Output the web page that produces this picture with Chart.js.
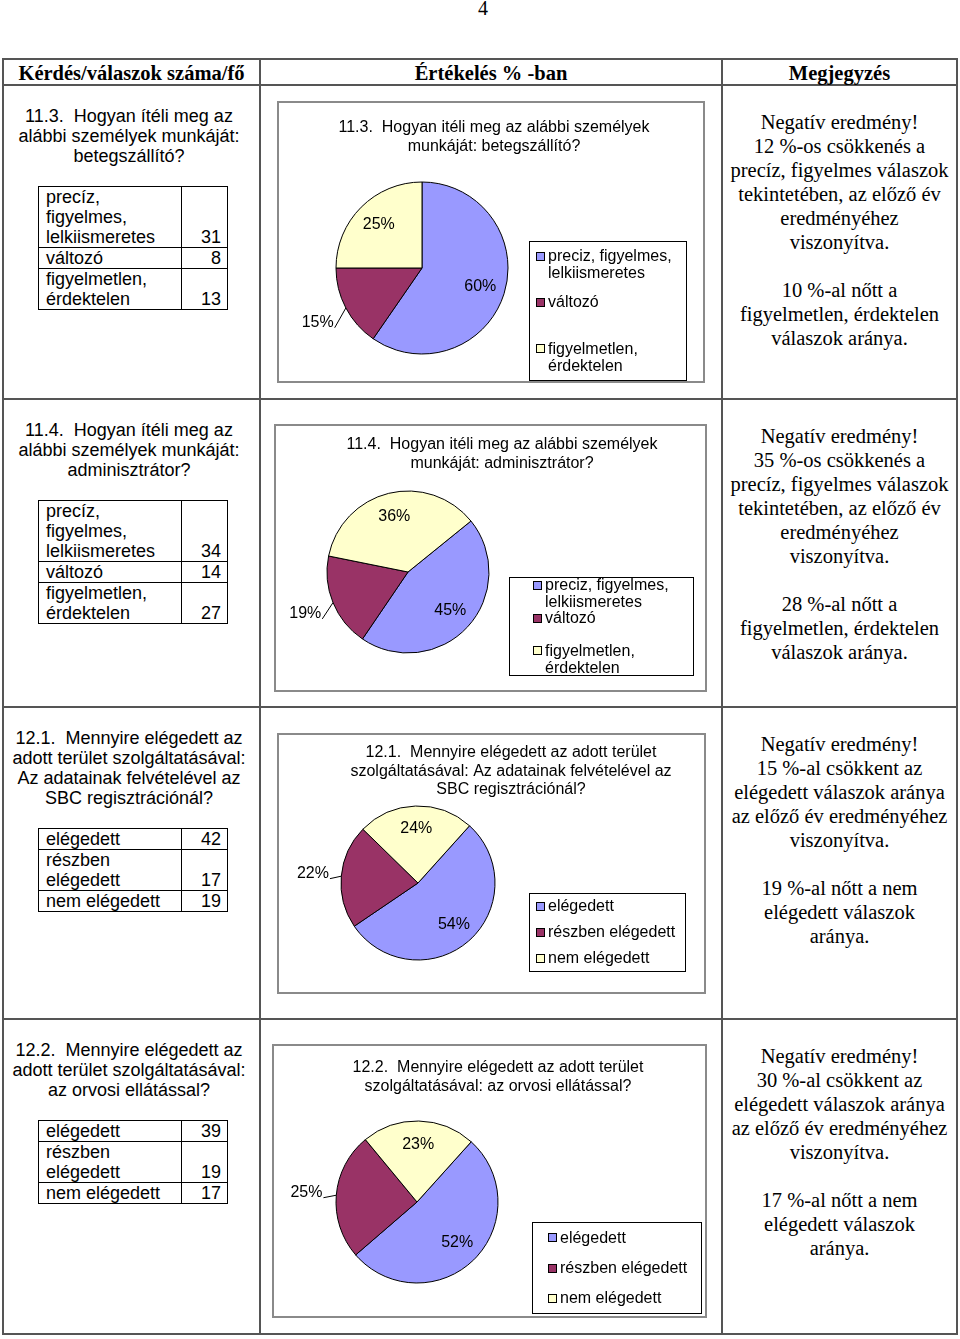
<!DOCTYPE html>
<html lang="hu">
<head>
<meta charset="utf-8">
<title>Értékelés % -ban</title>
<script src="https://cdn.jsdelivr.net/npm/chart.js@4.4.1/dist/chart.umd.min.js"></script>
<style>
  html, body { margin: 0; padding: 0; background: #fff; }
  #page { position: relative; width: 960px; height: 1339px; overflow: hidden; color: #000; }
  .line { position: absolute; background: #555; }
  .head { position: absolute; top: 62px; height: 22px; line-height: 22px; text-align: center;
          font: bold 20.5px "Liberation Serif", "Times New Roman", serif; }
  .question { position: absolute; left: 3px; width: 252px; text-align: center; padding-top: 21px;
              font: 18px/20px "Liberation Sans", Arial, sans-serif; }
  .question .q { white-space: pre; }
  .question table { margin: 20px 0 0 35px; border-collapse: collapse; table-layout: fixed; width: 189px; text-align: left; }
  .question td { border: 1px solid #000; padding: 0 6px 0 7px; vertical-align: bottom; }
  .question td.n { text-align: right; }
  .note { position: absolute; left: 722px; width: 235px; text-align: center; padding-top: 25px; white-space: pre;
          font: 20.5px/24px "Liberation Serif", "Times New Roman", serif; }
  .chartbox { position: absolute; box-sizing: border-box; border: 2px solid #8a8a8a; background: #fff; }
  .chartbox canvas { display: block; }
  #pagenum { position: absolute; left: 0; width: 966px; top: -4px; text-align: center;
             font: 20px/24px "Liberation Serif", "Times New Roman", serif; }
</style>
</head>
<body>
<div id="page">
  <div id="pagenum">4</div>
</div>
<script>
// --- data ---
const headers = ['Kérdés/válaszok száma/fő', 'Értékelés % -ban', 'Megjegyzés'];

const questionLines = [
  ['11.3.  Hogyan ítéli meg az', 'alábbi személyek munkáját:', 'betegszállító?'],
  ['11.4.  Hogyan ítéli meg az', 'alábbi személyek munkáját:', 'adminisztrátor?'],
  ['12.1.  Mennyire elégedett az', 'adott terület szolgáltatásával:', 'Az adatainak felvételével az', 'SBC regisztrációnál?'],
  ['12.2.  Mennyire elégedett az', 'adott terület szolgáltatásával:', 'az orvosi ellátással?']
];

const tableLabelsWork = ['precíz, figyelmes, lelkiismeretes', 'változó', 'figyelmetlen, érdektelen'];
const tableLabelsSatisfied = ['elégedett', 'részben elégedett', 'nem elégedett'];

const legendWork = [['preciz, figyelmes,', 'lelkiismeretes'], ['változó'], ['figyelmetlen,', 'érdektelen']];
const legendSatisfied = [['elégedett'], ['részben elégedett'], ['nem elégedett']];

const counts113 = [31, 8, 13];
const counts114 = [34, 14, 27];
const counts121 = [42, 17, 19];
const counts122 = [39, 19, 17];

const chartTitles = [
  ['11.3.  Hogyan itéli meg az alábbi személyek', 'munkáját: betegszállító?'],
  ['11.4.  Hogyan itéli meg az alábbi személyek', 'munkáját: adminisztrátor?'],
  ['12.1.  Mennyire elégedett az adott terület', 'szolgáltatásával: Az adatainak felvételével az', 'SBC regisztrációnál?'],
  ['12.2.  Mennyire elégedett az adott terület', 'szolgáltatásával: az orvosi ellátással?']
];

const notes = [
  ['Negatív eredmény!', '12 %-os csökkenés a', 'precíz, figyelmes válaszok', 'tekintetében, az előző év', 'eredményéhez', 'viszonyítva.', '', '10 %-al nőtt a', 'figyelmetlen, érdektelen', 'válaszok aránya.'],
  ['Negatív eredmény!', '35 %-os csökkenés a', 'precíz, figyelmes válaszok', 'tekintetében, az előző év', 'eredményéhez', 'viszonyítva.', '', '28 %-al nőtt a', 'figyelmetlen, érdektelen', 'válaszok aránya.'],
  ['Negatív eredmény!', '15 %-al csökkent az', 'elégedett válaszok aránya', 'az előző év eredményéhez', 'viszonyítva.', '', '19 %-al nőtt a nem', 'elégedett válaszok', 'aránya.'],
  ['Negatív eredmény!', '30 %-al csökkent az', 'elégedett válaszok aránya', 'az előző év eredményéhez', 'viszonyítva.', '', '17 %-al nőtt a nem', 'elégedett válaszok', 'aránya.']
];

const sliceColors = ['#9999FF', '#993366', '#FFFFCC'];

// --- page layout ---
const page = document.getElementById('page');
const rowTops = [85, 399, 707, 1019];

function line(x, y, w, h) {
  const d = document.createElement('div');
  d.className = 'line';
  Object.assign(d.style, { left: x + 'px', top: y + 'px', width: w + 'px', height: h + 'px' });
  page.appendChild(d);
}
line(2, 58, 956, 2);
line(2, 1333, 956, 2);
line(2, 58, 2, 1277);
line(956, 58, 2, 1277);
line(259, 58, 2, 1277);
line(721, 58, 2, 1277);
rowTops.forEach(y => line(2, y - 1, 956, 2));

const headCols = [[3, 257], [260, 462], [722, 235]];
headers.forEach((h, i) => {
  const d = document.createElement('div');
  d.className = 'head';
  d.style.left = headCols[i][0] + 'px';
  d.style.width = headCols[i][1] + 'px';
  d.textContent = h;
  page.appendChild(d);
});

const rowCounts = [counts113, counts114, counts121, counts122];
const rowTableLabels = [tableLabelsWork, tableLabelsWork, tableLabelsSatisfied, tableLabelsSatisfied];

questionLines.forEach((lines, r) => {
  const d = document.createElement('div');
  d.className = 'question';
  d.style.top = rowTops[r] + 'px';
  const q = document.createElement('div');
  q.className = 'q';
  q.textContent = lines.join('\n');
  d.appendChild(q);
  const t = document.createElement('table');
  t.innerHTML = '<colgroup><col style="width:143px"><col style="width:46px"></colgroup>';
  rowTableLabels[r].forEach((lab, i) => {
    const tr = document.createElement('tr');
    const a = document.createElement('td');
    a.textContent = lab;
    const b = document.createElement('td');
    b.className = 'n';
    b.textContent = rowCounts[r][i];
    tr.appendChild(a);
    tr.appendChild(b);
    t.appendChild(tr);
  });
  d.appendChild(t);
  page.appendChild(d);
});

notes.forEach((lines, r) => {
  const d = document.createElement('div');
  d.className = 'note';
  d.style.top = rowTops[r] + 'px';
  d.textContent = lines.join('\n');
  page.appendChild(d);
});

// --- charts ---
const layouts = [
  { box: [277, 101, 428, 282], cx: 422, cy: 268, r: 86, rotation: 0,  titleX: 494, titleY: 128, legend: [529, 241, 157, 139], inset: 7 },
  { box: [274, 424, 433, 268], cx: 408, cy: 572, r: 81, rotation: 51, titleX: 502, titleY: 445, legend: [509, 577, 184, 98],  inset: 24 },
  { box: [277, 733, 429, 261], cx: 418, cy: 883, r: 77, rotation: 42, titleX: 511, titleY: 753, legend: [529, 893, 156, 78],  inset: 7 },
  { box: [272, 1044, 435, 274], cx: 417, cy: 1202, r: 81, rotation: 42, titleX: 498, titleY: 1068, legend: [532, 1222, 169, 91], inset: 16 }
];
const chartLegends = [legendWork, legendWork, legendSatisfied, legendSatisfied];

const FONT = '16px "Liberation Sans", Arial, sans-serif';

const pieText = {
  id: 'pieText',
  afterDraw(chart, args, opts) {
    const c = chart.ctx;
    c.save();
    c.font = FONT;
    c.fillStyle = '#000';
    c.strokeStyle = '#000';
    c.lineWidth = 1;
    c.textAlign = 'center';
    c.textBaseline = 'middle';

    opts.title.forEach((t, i) => c.fillText(t, opts.titleX, opts.titleY + i * 18.4));

    const values = chart.data.datasets[0].data;
    const total = values.reduce((a, b) => a + b, 0);
    chart.getDatasetMeta(0).data.forEach((arc, i) => {
      const p = arc.getProps(['x', 'y', 'startAngle', 'endAngle', 'outerRadius'], true);
      const mid = (p.startAngle + p.endAngle) / 2;
      const txt = Math.round(values[i] / total * 100) + '%';
      if (i === opts.outside) {
        const d = p.outerRadius * 1.37;
        const lx = p.x + Math.cos(mid) * d, ly = p.y + Math.sin(mid) * d;
        c.fillText(txt, lx, ly);
        const w = c.measureText(txt).width;
        c.beginPath();
        c.moveTo(lx + w / 2 + 1, ly + 5);
        c.lineTo(p.x + Math.cos(mid) * p.outerRadius, p.y + Math.sin(mid) * p.outerRadius);
        c.stroke();
      } else {
        const d = p.outerRadius * 0.71;
        c.fillText(txt, p.x + Math.cos(mid) * d, p.y + Math.sin(mid) * d);
      }
    });

    // framed legend
    const [x, y, w, h] = opts.legend;
    c.fillStyle = '#fff';
    c.fillRect(x, y, w, h);
    c.strokeRect(x + 0.5, y + 0.5, w, h);
    const labels = opts.labels;
    const colors = chart.data.datasets[0].backgroundColor;
    const maxLines = Math.max(...labels.map(l => l.length));
    const lh = 17;
    const slot = h / labels.length;
    c.textAlign = 'left';
    labels.forEach((lines, i) => {
      const top = y + i * slot + (slot - maxLines * lh) / 2;
      const my = Math.round(top + lh / 2);
      c.fillStyle = colors[i];
      c.fillRect(x + opts.inset, my - 4, 9, 9);
      c.strokeRect(x + opts.inset + 0.5, my - 3.5, 8, 8);
      c.fillStyle = '#000';
      lines.forEach((t, j) => c.fillText(t, x + opts.inset + 12, top + lh / 2 + j * lh + 1));
    });
    c.restore();
  }
};

layouts.forEach((L, k) => {
  const [bx, by, bw, bh] = L.box;
  const ox = bx + 2, oy = by + 2;
  const W = bw - 4, H = bh - 4;
  const wrap = document.createElement('div');
  wrap.className = 'chartbox';
  Object.assign(wrap.style, { left: bx + 'px', top: by + 'px', width: bw + 'px', height: bh + 'px' });
  const cv = document.createElement('canvas');
  cv.width = W;
  cv.height = H;
  wrap.appendChild(cv);
  page.appendChild(wrap);

  const cx = L.cx - ox, cy = L.cy - oy;
  new Chart(cv.getContext('2d'), {
    type: 'pie',
    data: {
      labels: chartLegends[k].map(l => l.join(' ')),
      datasets: [{
        data: rowCounts[k],
        backgroundColor: sliceColors,
        borderColor: '#000',
        borderWidth: 1
      }]
    },
    options: {
      responsive: false,
      animation: false,
      rotation: L.rotation,
      radius: L.r,
      layout: {
        padding: { left: cx - L.r - 1, right: W - cx - L.r - 1, top: cy - L.r - 1, bottom: H - cy - L.r - 1 }
      },
      plugins: {
        legend: { display: false },
        tooltip: { enabled: false },
        title: { display: false },
        pieText: {
          title: chartTitles[k],
          titleX: L.titleX - ox,
          titleY: L.titleY - oy,
          outside: 1,
          labels: chartLegends[k],
          legend: [L.legend[0] - ox, L.legend[1] - oy, L.legend[2], L.legend[3]],
          inset: L.inset
        }
      }
    },
    plugins: [pieText]
  });
});
</script>
</body>
</html>
